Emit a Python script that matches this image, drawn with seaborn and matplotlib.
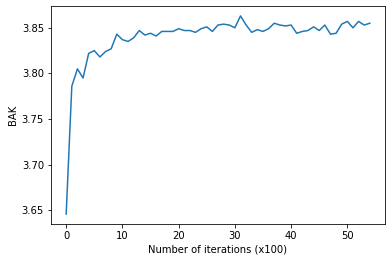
import matplotlib
matplotlib.use("Agg")
import matplotlib.pyplot as plt
import seaborn as sns
import pandas as pd

iterations = list(range(55))
bak = [3.646, 3.786, 3.805, 3.795, 3.822, 3.825, 3.818, 3.824, 3.827, 3.843,
       3.837, 3.835, 3.839, 3.847, 3.842, 3.844, 3.841, 3.846, 3.846, 3.846,
       3.849, 3.847, 3.847, 3.845, 3.849, 3.851, 3.846, 3.853, 3.854, 3.853,
       3.850, 3.863, 3.853, 3.845, 3.848, 3.846, 3.849, 3.855, 3.853, 3.852,
       3.853, 3.844, 3.846, 3.847, 3.851, 3.847, 3.853, 3.843, 3.844, 3.854,
       3.857, 3.850, 3.857, 3.853, 3.855]

df = pd.DataFrame({"iter": iterations, "BAK": bak})

plt.rcParams["font.family"] = ["DejaVu Sans"]
plt.rcParams["font.size"] = 10
dpi = 72
fig = plt.figure(figsize=(392 / dpi, 262 / dpi), dpi=dpi)
ax = fig.add_axes([51 / 392, 38 / 262, (385 - 51) / 392, (224 - 6) / 262])
sns.lineplot(data=df, x="iter", y="BAK", ax=ax, color="#1f77b4", linewidth=1.5)
ax.set_xlabel("Number of iterations (x100)")
ax.set_ylabel("BAK")
ax.set_xticks([0, 10, 20, 30, 40, 50])
ax.set_yticks([3.65, 3.70, 3.75, 3.80, 3.85])
fig.savefig("out.png", dpi=dpi)
